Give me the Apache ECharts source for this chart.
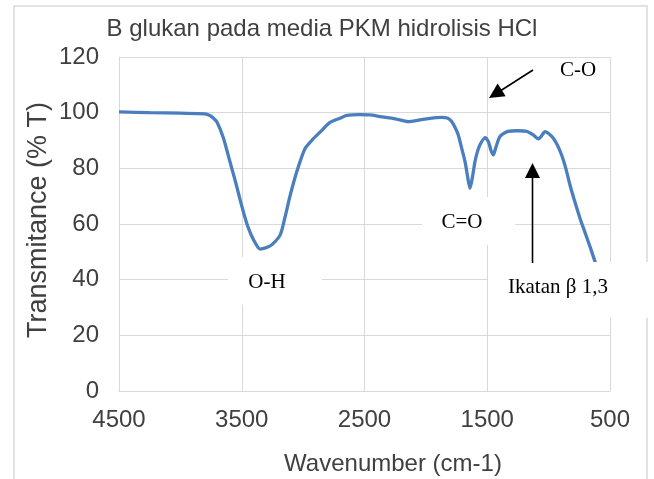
<!DOCTYPE html>
<html>
<head>
<meta charset="utf-8">
<script src="https://cdn.jsdelivr.net/npm/echarts@6/dist/echarts.min.js"></script>
<style>
html,body{margin:0;padding:0;background:#fff;}
#chart{width:654px;height:479px;}
</style>
</head>
<body>
<div id="chart"></div>
<script>
// ---- data ----
var chartTitle = 'B glukan pada media PKM hidrolisis HCl';
var xTitle = 'Wavenumber (cm-1)';
var yTitle = 'Transmitance (% T)';
var wavenumbers = [4500, 4250, 4000, 3800, 3760, 3730, 3700, 3650, 3600, 3550, 3500, 3450, 3400, 3351, 3300, 3256, 3188, 3150, 3107, 3050, 2985, 2920, 2862, 2781, 2700, 2645, 2537, 2455, 2374, 2250, 2143, 2070, 1993, 1871, 1820, 1790, 1760, 1736, 1710, 1681, 1660, 1641, 1620, 1600, 1580, 1559, 1518, 1490, 1470, 1451, 1430, 1396, 1331, 1250, 1179, 1125, 1084, 1060, 1030, 1000, 962, 930, 894, 860, 826, 790, 744, 700, 660, 622, 600];
var transmittance = [100.3, 100, 99.8, 99.6, 99, 98, 96.5, 91, 83, 75, 66.5, 59, 54, 51, 51.5, 52.5, 56, 62, 70, 79, 87, 90.5, 93, 96.5, 98, 99, 99.3, 99.2, 98.6, 97.8, 96.8, 97.2, 97.8, 98.3, 98, 96.8, 94.5, 92, 87.5, 82.4, 77, 72.8, 77, 82.4, 86, 88.5, 91, 89.5, 86.5, 84.8, 87.5, 91.4, 93.3, 93.5, 93.3, 92, 90.6, 91.5, 93.2, 92.5, 90.8, 88.5, 84.8, 80, 74, 68.5, 62, 56.5, 51.5, 46.5, 44];
var xTicks = [500, 4500, 1000];   // min, max, interval
var yTicks = [0, 120, 20];
var annotations = ['C-O', 'C=O', 'O-H', 'Ikatan \u03b2 1,3'];

var points = wavenumbers.map(function (w, i) { return [w, transmittance[i]]; });

var sans = '"Liberation Sans", Arial, sans-serif';
var serif = '"Liberation Serif", "Times New Roman", serif';
var grey = '#D9D9D9';
var txt = '#404040';

var chart = echarts.init(document.getElementById('chart'), null, {renderer: 'canvas'});

function arrowHead(tip, from, len, half) {
  var dx = tip[0] - from[0], dy = tip[1] - from[1];
  var L = Math.sqrt(dx * dx + dy * dy);
  var ux = dx / L, uy = dy / L;
  var bx = tip[0] - ux * len, by = tip[1] - uy * len;
  return [tip, [bx - uy * half, by + ux * half], [bx + uy * half, by - ux * half]];
}

var coFrom = [533, 70], coTip = [489, 98];
var ikFrom = [532.5, 263], ikTip = [532.5, 163];

chart.setOption({
  animation: false,
  backgroundColor: '#fff',
  grid: {left: 119, right: 44, top: 57, bottom: 88, containLabel: false},
  xAxis: {
    type: 'value', inverse: true,
    min: xTicks[0], max: xTicks[1], interval: xTicks[2],
    axisLine: {show: true, lineStyle: {color: grey, width: 1}},
    axisTick: {show: false},
    splitLine: {show: true, lineStyle: {color: grey, width: 1}},
    axisLabel: {color: txt, fontFamily: sans, fontSize: 24, margin: 17,
      formatter: function (v) { return String(v); }}
  },
  yAxis: {
    type: 'value',
    min: yTicks[0], max: yTicks[1], interval: yTicks[2],
    axisLine: {show: true, lineStyle: {color: grey, width: 1}},
    axisTick: {show: false},
    splitLine: {show: true, lineStyle: {color: grey, width: 1}},
    axisLabel: {color: txt, fontFamily: sans, fontSize: 24, margin: 20,
      formatter: function (v) { return String(v); }}
  },
  series: [{
    type: 'line',
    data: points,
    showSymbol: false,
    smooth: 0.25,
    lineStyle: {color: '#4A7EBF', width: 3.3},
    z: 2
  }],
  graphic: [
    {type: 'rect', silent: true, z: 0, shape: {x: 14, y: 6, width: 633, height: 500},
      style: {fill: 'none', stroke: grey, lineWidth: 1.5}},
    {type: 'text', z: 50, x: 322, y: 29,
      style: {text: chartTitle, font: '24px ' + sans, fill: txt, textAlign: 'center', textVerticalAlign: 'middle'}},
    {type: 'text', z: 50, x: 393, y: 464,
      style: {text: xTitle, font: '24px ' + sans, fill: txt, textAlign: 'center', textVerticalAlign: 'middle'}},
    {type: 'text', z: 50, x: 39, y: 220, rotation: Math.PI / 2,
      style: {text: yTitle, font: '27px ' + sans, fill: txt, textAlign: 'center', textVerticalAlign: 'middle'}},
    // white label boxes
    {type: 'rect', z: 40, shape: {x: 228, y: 257, width: 94, height: 48}, style: {fill: '#fff'}},
    {type: 'rect', z: 40, shape: {x: 422, y: 197, width: 93, height: 48}, style: {fill: '#fff'}},
    {type: 'rect', z: 40, shape: {x: 488, y: 262, width: 170, height: 56}, style: {fill: '#fff'}},
    // annotation texts
    {type: 'text', z: 50, x: 578, y: 70,
      style: {text: annotations[0], font: '21px ' + serif, fill: '#000', textAlign: 'center', textVerticalAlign: 'middle'}},
    {type: 'text', z: 50, x: 462, y: 222,
      style: {text: annotations[1], font: '21px ' + serif, fill: '#000', textAlign: 'center', textVerticalAlign: 'middle'}},
    {type: 'text', z: 50, x: 267, y: 282,
      style: {text: annotations[2], font: '21px ' + serif, fill: '#000', textAlign: 'center', textVerticalAlign: 'middle'}},
    {type: 'text', z: 50, x: 558, y: 287,
      style: {text: annotations[3], font: '21px ' + serif, fill: '#000', textAlign: 'center', textVerticalAlign: 'middle'}},
    // arrows
    {type: 'line', z: 50, shape: {x1: coFrom[0], y1: coFrom[1], x2: coTip[0] + 8, y2: coTip[1] - 5},
      style: {stroke: '#000', lineWidth: 1.6}},
    {type: 'polygon', z: 50, shape: {points: arrowHead(coTip, coFrom, 15, 7.5)}, style: {fill: '#000'}},
    {type: 'line', z: 50, shape: {x1: ikFrom[0], y1: ikFrom[1], x2: ikTip[0], y2: ikTip[1] + 10},
      style: {stroke: '#000', lineWidth: 1.6}},
    {type: 'polygon', z: 50, shape: {points: arrowHead(ikTip, ikFrom, 15, 7.5)}, style: {fill: '#000'}}
  ]
});
</script>
</body>
</html>
